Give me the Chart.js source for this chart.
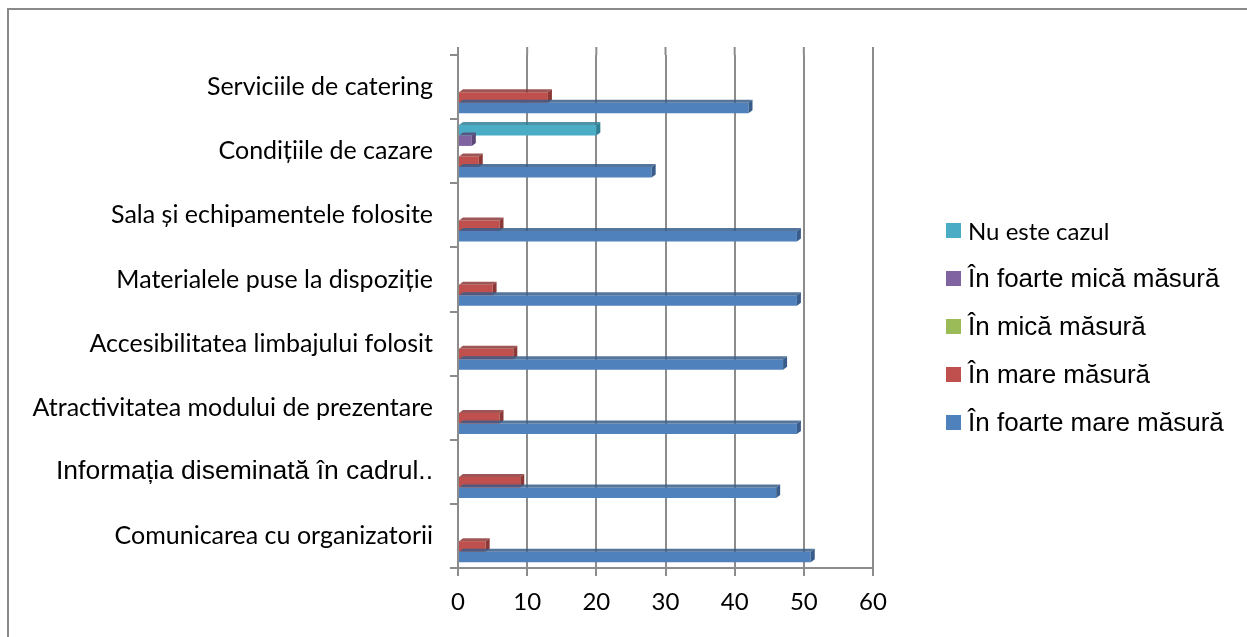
<!DOCTYPE html>
<html>
<head>
<meta charset="utf-8">
<script src="https://cdn.jsdelivr.net/npm/chart.js@4.4.1/dist/chart.umd.min.js"></script>
<style>
  html, body { margin: 0; padding: 0; background: #fff; }
  #wrap { position: relative; width: 1247px; height: 637px; overflow: hidden; }
  #frame { position: absolute; left: 7px; top: 8px; right: -10px; bottom: -10px;
           border-top: 2px solid #8a8a8a; border-left: 2px solid #8a8a8a; }
  #chartBox { position: absolute; left: 0; top: 0; width: 1247px; height: 637px; }
  #legend { position: absolute; left: 946px; top: 206px; }
  .item { height: 48px; display: flex; align-items: center; white-space: nowrap; color: #000; }
  .box { width: 15px; height: 15px; margin-right: 7px; flex: none; }
</style>
</head>
<body>
<div id="wrap">
  <div id="frame"></div>
  <div id="chartBox"><canvas id="chart"></canvas></div>
  <div id="legend"></div>
</div>
<script>
// categories, top to bottom as shown
const categories = [
  'Serviciile de catering',
  'Condițiile de cazare',
  'Sala și echipamentele folosite',
  'Materialele puse la dispoziție',
  'Accesibilitatea limbajului folosit',
  'Atractivitatea modului de prezentare',
  'Informația diseminată în cadrul..',
  'Comunicarea cu organizatorii'
];

const xTicks = [0, 10, 20, 30, 40, 50, 60];

// series values (same order as categories)
const nuEsteCazul     = [0, 20, 0, 0, 0, 0, 0, 0];
const foarteMicaMasura = [0, 2, 0, 0, 0, 0, 0, 0];
const micaMasura      = [0, 0, 0, 0, 0, 0, 0, 0];
const mareMasura      = [13, 3, 6, 5, 8, 6, 9, 4];
const foarteMareMasura = [42, 28, 49, 49, 47, 49, 46, 51];

const series = [
  { label: 'Nu este cazul', data: nuEsteCazul, color: '#4BACC6', dark: '#2F8096', calibri: true },
  { label: 'În foarte mică măsură', data: foarteMicaMasura, color: '#8064A2', dark: '#5C4776' },
  { label: 'În mică măsură', data: micaMasura, color: '#9BBB59', dark: '#71893F' },
  { label: 'În mare măsură', data: mareMasura, color: '#C0504D', dark: '#8C3836' },
  { label: 'În foarte mare măsură', data: foarteMareMasura, color: '#4F81BD', dark: '#385D8A' }
];

const calibriLike = "Lato, 'Open Sans', sans-serif";
const arialLike = "'Liberation Sans', Arial, sans-serif";
const gridGrey = '#8c8c8c';

// back wall sits a little higher than the category bands
const wallExtend = {
  id: 'wallExtend',
  beforeDatasetsDraw(chart) {
    const ctx = chart.ctx;
    const x = chart.scales.x;
    const top = chart.chartArea.top;
    ctx.save();
    ctx.strokeStyle = gridGrey;
    ctx.lineWidth = 2;
    xTicks.forEach(v => {
      const px = x.getPixelForValue(v);
      ctx.beginPath();
      ctx.moveTo(px, top - 8);
      ctx.lineTo(px, top);
      ctx.stroke();
    });
    ctx.restore();
  }
};

// small fake-3D faces on each bar (right end + top)
const bar3d = {
  id: 'bar3d',
  afterDatasetsDraw(chart) {
    const ctx = chart.ctx;
    const d = 4, dy = 3;
    chart.data.datasets.forEach((ds, i) => {
      const meta = chart.getDatasetMeta(i);
      meta.data.forEach((bar, j) => {
        if (!ds.data[j]) return;
        const top = bar.y - bar.height / 2;
        const bottom = bar.y + bar.height / 2;
        ctx.save();
        ctx.fillStyle = ds.darkColor;
        ctx.beginPath();
        ctx.moveTo(bar.x, top);
        ctx.lineTo(bar.x + d, top - dy);
        ctx.lineTo(bar.x + d, bottom - dy);
        ctx.lineTo(bar.x, bottom);
        ctx.closePath();
        ctx.fill();
        ctx.globalAlpha = 0.85;
        ctx.beginPath();
        ctx.moveTo(bar.base, top);
        ctx.lineTo(bar.base + d, top - dy);
        ctx.lineTo(bar.x + d, top - dy);
        ctx.lineTo(bar.x, top);
        ctx.closePath();
        ctx.fill();
        ctx.restore();
      });
    });
  }
};

const chart = new Chart(document.getElementById('chart'), {
  type: 'bar',
  data: {
    labels: categories,
    datasets: series.map(s => ({
      label: s.label,
      data: s.data,
      backgroundColor: s.color,
      borderColor: s.dark,
      darkColor: s.dark,
      borderWidth: 0,
      categoryPercentage: 0.82,
      barPercentage: 1.0
    }))
  },
  options: {
    indexAxis: 'y',
    responsive: true,
    maintainAspectRatio: false,
    animation: false,
    layout: { padding: { top: 55, right: 374, left: 0, bottom: 0 } },
    plugins: {
      legend: { display: false },
      tooltip: { enabled: false }
    },
    scales: {
      x: {
        min: 0,
        max: 60,
        afterBuildTicks: (scale) => { scale.ticks = xTicks.map(v => ({ value: v })); },
        afterFit: (scale) => { scale.height = 69; },
        grid: {
          color: gridGrey,
          lineWidth: 2,
          tickLength: 8,
          tickColor: gridGrey
        },
        border: { color: gridGrey, width: 2 },
        ticks: {
          color: '#000',
          padding: 12,
          font: { family: calibriLike, size: 24 }
        }
      },
      y: {
        afterFit: (scale) => { scale.width = 458; },
        grid: {
          drawOnChartArea: false,
          tickLength: 8,
          tickColor: gridGrey,
          lineWidth: 2
        },
        border: { color: gridGrey, width: 2 },
        ticks: {
          color: '#000',
          padding: 17,
          font: (ctx) => ctx.index === 6
            ? { family: arialLike, size: 26.5 }
            : { family: calibriLike, size: 25 }
        }
      }
    }
  },
  plugins: [wallExtend, bar3d]
});

// legend built from the chart datasets
const legendEl = document.getElementById('legend');
chart.data.datasets.forEach((ds, i) => {
  const row = document.createElement('div');
  row.className = 'item';
  const box = document.createElement('span');
  box.className = 'box';
  box.style.background = ds.backgroundColor;
  const txt = document.createElement('span');
  txt.textContent = ds.label;
  txt.style.fontFamily = series[i].calibri ? calibriLike : arialLike;
  txt.style.fontSize = series[i].calibri ? '24px' : '26px';
  row.appendChild(box);
  row.appendChild(txt);
  legendEl.appendChild(row);
});
</script>
</body>
</html>
